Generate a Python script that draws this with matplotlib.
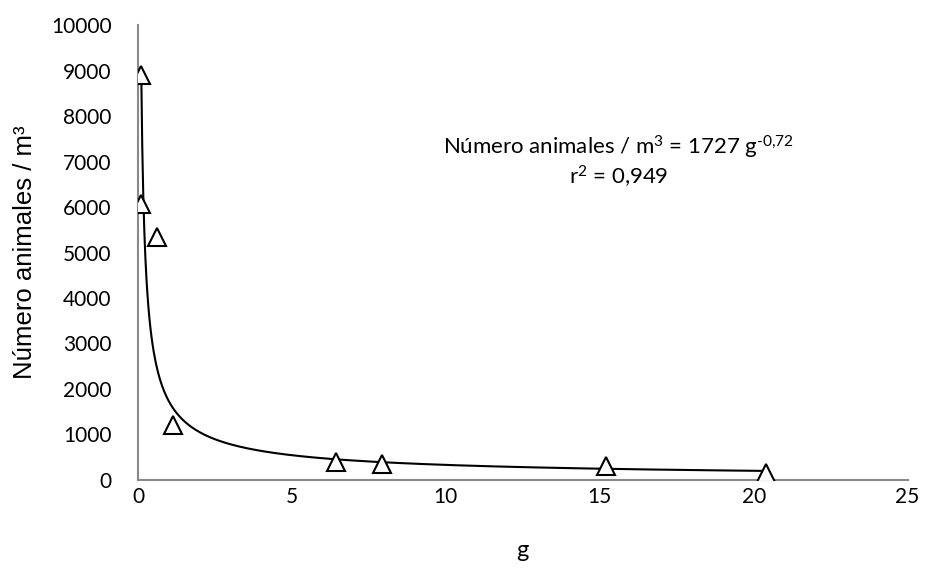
import numpy as np
import matplotlib
matplotlib.use('Agg')
import matplotlib.pyplot as plt

plt.rcParams['mathtext.fontset'] = 'custom'
plt.rcParams['mathtext.rm'] = 'Lato'
plt.rcParams['mathtext.it'] = 'Lato'

# observed points (g, animals per m3)
peso_g = [0.1, 0.1, 0.6, 1.13, 6.43, 7.92, 15.2, 20.4]
animales_m3 = [8900, 6060, 5340, 1210, 400, 350, 310, 150]

# power fit: y = a * x^b
fit_a = 1727
fit_b = -0.72

x_ticks = [0, 5, 10, 15, 20, 25]
y_ticks = list(range(0, 10001, 1000))

fig = plt.figure(figsize=(9.27, 5.74), dpi=100)
ax = fig.add_axes([0.149, 0.164, 0.830, 0.792])

xs = np.linspace(min(peso_g), max(peso_g), 600)
ax.plot(xs, fit_a * xs ** fit_b, color='black', lw=1.5, zorder=2)
ax.plot(peso_g, animales_m3, linestyle='none', marker='^', markersize=13,
        markerfacecolor='white', markeredgecolor='black', markeredgewidth=1.5,
        zorder=3)

ax.set_xlim(0, 25)
ax.set_ylim(0, 10000)
ax.set_xticks(x_ticks)
ax.set_yticks(y_ticks)
ax.tick_params(length=0, labelsize=15)
ax.tick_params(axis='y', pad=19)
ax.tick_params(axis='x', pad=5)
for lab in ax.get_xticklabels() + ax.get_yticklabels():
    lab.set_family('Lato')

for side in ('top', 'right'):
    ax.spines[side].set_visible(False)
for side in ('left', 'bottom'):
    ax.spines[side].set_color('#898989')
    ax.spines[side].set_linewidth(1.5)

ax.set_ylabel('Número animales / m³', fontsize=18.5, family='Liberation Sans', labelpad=10)
ax.set_xlabel('g', fontsize=17, family='Lato', labelpad=24)

ax.text(0.625, 0.732, 'Número animales / m$^{\\text{3}}$ = 1727 g$^{\\text{-0,72}}$',
        transform=ax.transAxes, ha='center', va='center', fontsize=16, family='Lato')
ax.text(0.625, 0.666, 'r$^{\\text{2}}$ = 0,949',
        transform=ax.transAxes, ha='center', va='center', fontsize=16, family='Lato')

fig.savefig('out.png', dpi=100)
